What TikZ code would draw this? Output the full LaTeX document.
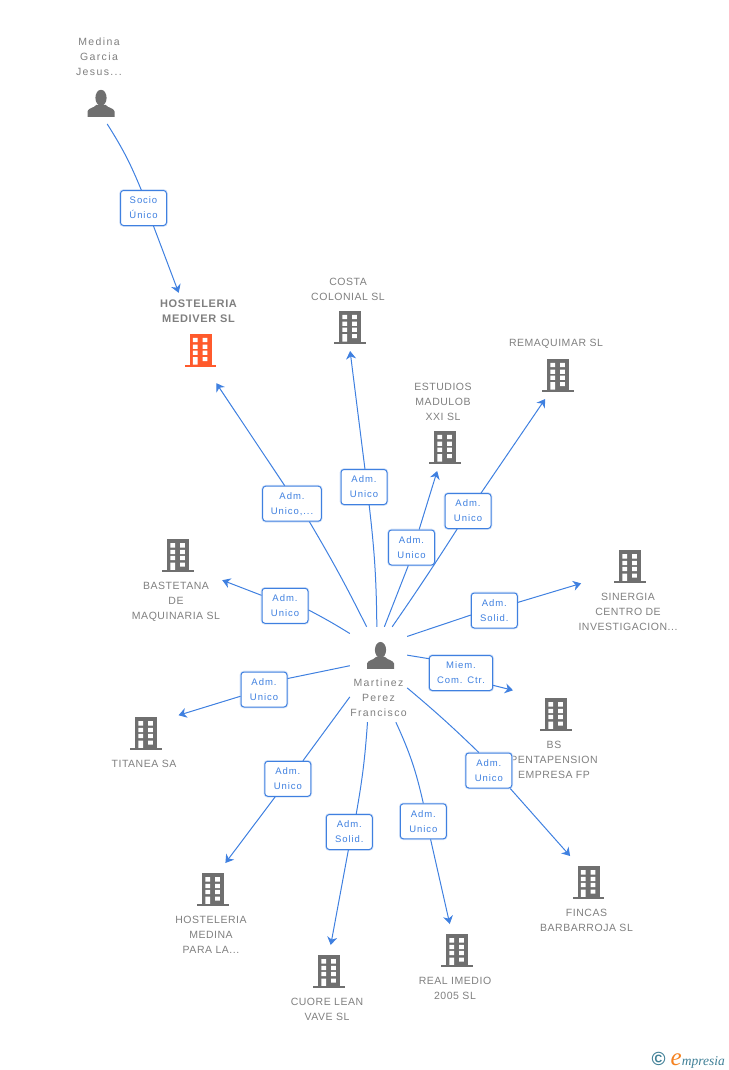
\documentclass[tikz,border=0pt]{standalone}
\usepackage{fontspec}
\usetikzlibrary{arrows.meta,positioning}
\newfontfamily\lblfont[LetterSpace=13]{Liberation Sans}
\newfontfamily\capfont[LetterSpace=5]{Liberation Sans}
\newfontfamily\admfont[LetterSpace=10]{Liberation Sans}
\newfontfamily\boldfont[LetterSpace=6]{Liberation Sans Bold}
\newfontfamily\logofont{Liberation Serif Italic}
\definecolor{hmblue}{HTML}{3F80E0}
\definecolor{hmgray}{HTML}{6F6F6F}
\definecolor{hmtext}{HTML}{7F7F7F}
\definecolor{hmorange}{HTML}{FF5A2C}
\definecolor{hmteal}{HTML}{3F7F96}
\definecolor{hmlogo}{HTML}{F58220}
\newcommand{\firmicon}[1]{\hspace*{4pt}\tikz[x=1pt,y=-1pt]{
  \fill[#1] (5,0) rectangle (27,30.7);
  \fill[#1] (0,30.7) rectangle (31.7,33);
  \fill[white] (8.3,4) rectangle (13,8.3) (18,4) rectangle (22.7,8.3);
  \fill[white] (8.3,10.7) rectangle (13,15) (18,10.7) rectangle (22.7,15);
  \fill[white] (8.3,16.7) rectangle (13,21) (18,16.7) rectangle (22.7,21);
  \fill[white] (8.3,23.3) rectangle (13,30.7) (18,23.3) rectangle (22.7,27.3);
}}
\newcommand{\personicon}{\hspace*{4pt}\tikz[x=1pt,y=-1pt]{
  \fill[hmgray] (13.5,8) ellipse (5.6 and 8);
  \fill[hmgray] (0,27) -- (0,21.5) .. controls (1,18) and (6,18.5) .. (9,15)
    -- (18,15) .. controls (21,18.5) and (26,18) .. (27,21.5) -- (27,27) -- cycle;
}}
\tikzset{
  person/.style={align=center, text=hmtext, inner xsep=2pt, inner ysep=7pt,
    font=\lblfont\fontsize{10.5}{15}\selectfont},
  firm/.style={person, font=\capfont\fontsize{10.5}{15}\selectfont},
  firmup/.style={firm, anchor=north, inner ysep=10pt},
  adm/.style={draw=hmblue, fill=white, rounded corners=3pt, line width=1pt,
    preaction={draw=hmblue!22, line width=2.6pt},
    align=center, text=hmblue, minimum width=46pt, minimum height=35pt, inner sep=1pt,
    font=\admfont\fontsize{9.5}{15}\selectfont},
  hubline/.style={draw=hmblue, line width=1pt},
  link/.style={hubline, -{Stealth[length=8pt,width=10pt,inset=2.5pt]}}
}
\begin{document}
\begin{tikzpicture}[x=1pt,y=-1pt]
  \useasboundingbox (0,0) rectangle (728,1070);

  % ---- Central person ----
  \node[person, inner sep=0pt, minimum width=57pt, minimum height=95pt] (hub) at (378.5,674.5)
    {\raisebox{0pt}[37pt][0pt]{\personicon}\\[3pt]Martinez\\Perez\\Francisco};

  % ---- Top of the chart ----
  \node[person, anchor=south] (medina) at (99,124) {Medina\\Garcia\\Jesus...\\[13pt]\personicon};
  \node[firm, anchor=south, font=\boldfont\fontsize{11}{15}\selectfont] (mediver) at (198.5,374)
    {HOSTELERIA\\MEDIVER SL\\[10pt]\firmicon{hmorange}};

  % ---- Firms with the text above the icon ----
  \node[firm, anchor=south] (costa) at (348,351) {COSTA\\COLONIAL SL\\[9pt]\firmicon{hmgray}};
  \node[firm, anchor=south] (estudios) at (443,471) {ESTUDIOS\\MADULOB\\XXI SL\\[9pt]\firmicon{hmgray}};
  \node[firm, anchor=south] (remaquimar) at (556,399) {REMAQUIMAR SL\\[9pt]\firmicon{hmgray}};

  % ---- Firms with the text below the icon ----
  \node[firmup] (sinergia) at (628,540) {\firmicon{hmgray}\\[2pt]SINERGIA\\CENTRO DE\\INVESTIGACION...};
  \node[firmup] (pentapension) at (554,688) {\firmicon{hmgray}\\[2pt]BS\\PENTAPENSION\\EMPRESA FP};
  \node[firmup] (fincas) at (586.5,856) {\firmicon{hmgray}\\[2pt]FINCAS\\BARBARROJA SL};
  \node[firmup] (imedio) at (455,924) {\firmicon{hmgray}\\[2pt]REAL IMEDIO\\2005 SL};
  \node[firmup] (cuore) at (327,945) {\firmicon{hmgray}\\[2pt]CUORE LEAN\\VAVE SL};
  \node[firmup] (medinapara) at (211,863) {\firmicon{hmgray}\\[2pt]HOSTELERIA\\MEDINA\\PARA LA...};
  \node[firmup] (titanea) at (144,707) {\firmicon{hmgray}\\[2pt]TITANEA SA};
  \node[firmup] (bastetana) at (176,529) {\firmicon{hmgray}\\[2pt]BASTETANA\\DE\\MAQUINARIA SL};

  % ---- Role boxes ----
  \node[adm] (lblmedina) at (143.5,208) {Socio\\Único};
  \node[adm, minimum width=58.6pt] (lblmediver) at (292,503.7) {Adm.\\Unico,...};
  \node[adm] (lblcosta) at (364,487) {Adm.\\Unico};
  \node[adm] (lblestudios) at (411.5,547.5) {Adm.\\Unico};
  \node[adm] (lblremaquimar) at (468,511) {Adm.\\Unico};
  \node[adm] (lblsinergia) at (494.3,610.5) {Adm.\\Solid.};
  \node[adm, minimum width=63.4pt] (lblpentapension) at (461,673) {Miem.\\Com. Ctr.};
  \node[adm] (lblfincas) at (488.8,770.5) {Adm.\\Unico};
  \node[adm] (lblimedio) at (423.3,821.3) {Adm.\\Unico};
  \node[adm] (lblcuore) at (349.3,832) {Adm.\\Solid.};
  \node[adm] (lblmedinapara) at (287.8,778.8) {Adm.\\Unico};
  \node[adm] (lbltitanea) at (264,689.5) {Adm.\\Unico};
  \node[adm] (lblbastetana) at (285,605.8) {Adm.\\Unico};

  % ---- Connectors ----
  \draw[hubline] (medina.-80) to[bend left=5] (lblmedina.97);
  \draw[link] (lblmedina.-61) -- (mediver.116);
  \draw[hubline] (hub.104) to[bend right=2] (lblmediver.-46);
  \draw[link, shorten >=11pt] (lblmediver.112) -- (mediver.-74);
  \draw[hubline] (hub.92) to[bend right=3] (lblcosta.-74);
  \draw[link] (lblcosta.87) -- (costa.-87);
  \draw[hubline] (hub.83) -- (lblestudios.-100);
  \draw[link] (lblestudios.67) -- (estudios.-97);
  \draw[hubline] (hub.74) to[bend right=1] (lblremaquimar.-121);
  \draw[link] (lblremaquimar.54) -- (remaquimar.-108);
  \draw[hubline] (hub.53) -- (lblsinergia.-169);
  \draw[link, shorten >=-5pt] (lblsinergia.19) -- (sinergia.174);
  \draw[hubline] (hub.34) -- (lblpentapension.156);
  \draw[link, shorten >=-5pt] (lblpentapension.-21) -- (pentapension.133);
  \draw[hubline] (hub.-25) to[bend left=2] (lblfincas.119);
  \draw[link] (lblfincas.-40) -- (fincas.111);
  \draw[hubline] (hub.-70) to[bend left=6] (lblimedio.90);
  \draw[link] (lblimedio.-68) -- (imedio.97);
  \draw[hubline] (hub.-103) to[bend left=3] (lblcuore.69);
  \draw[link] (lblcuore.-93) -- (cuore.85);
  \draw[hubline] (hub.-142) -- (lblmedinapara.50);
  \draw[link] (lblmedinapara.-125) -- (medinapara.74);
  \draw[hubline] (hub.163) -- (lbltitanea.25);
  \draw[link] (lbltitanea.-164) -- (titanea.38);
  \draw[hubline] (hub.125) to[bend right=2] (lblbastetana.-10);
  \draw[link] (lblbastetana.156) -- (bastetana.east);

  % ---- Logo ----
  \node[inner sep=0pt, anchor=east, text=hmteal, font=\logofont\fontsize{13.5}{15}\selectfont] (logo) at (725,1060)
    {{\fontspec{Liberation Sans Bold}\fontsize{19}{19}\selectfont\copyright}\hspace{5pt}{\color{hmlogo}\fontsize{25}{15}\selectfont e}mpresia};

\end{tikzpicture}
\end{document}
